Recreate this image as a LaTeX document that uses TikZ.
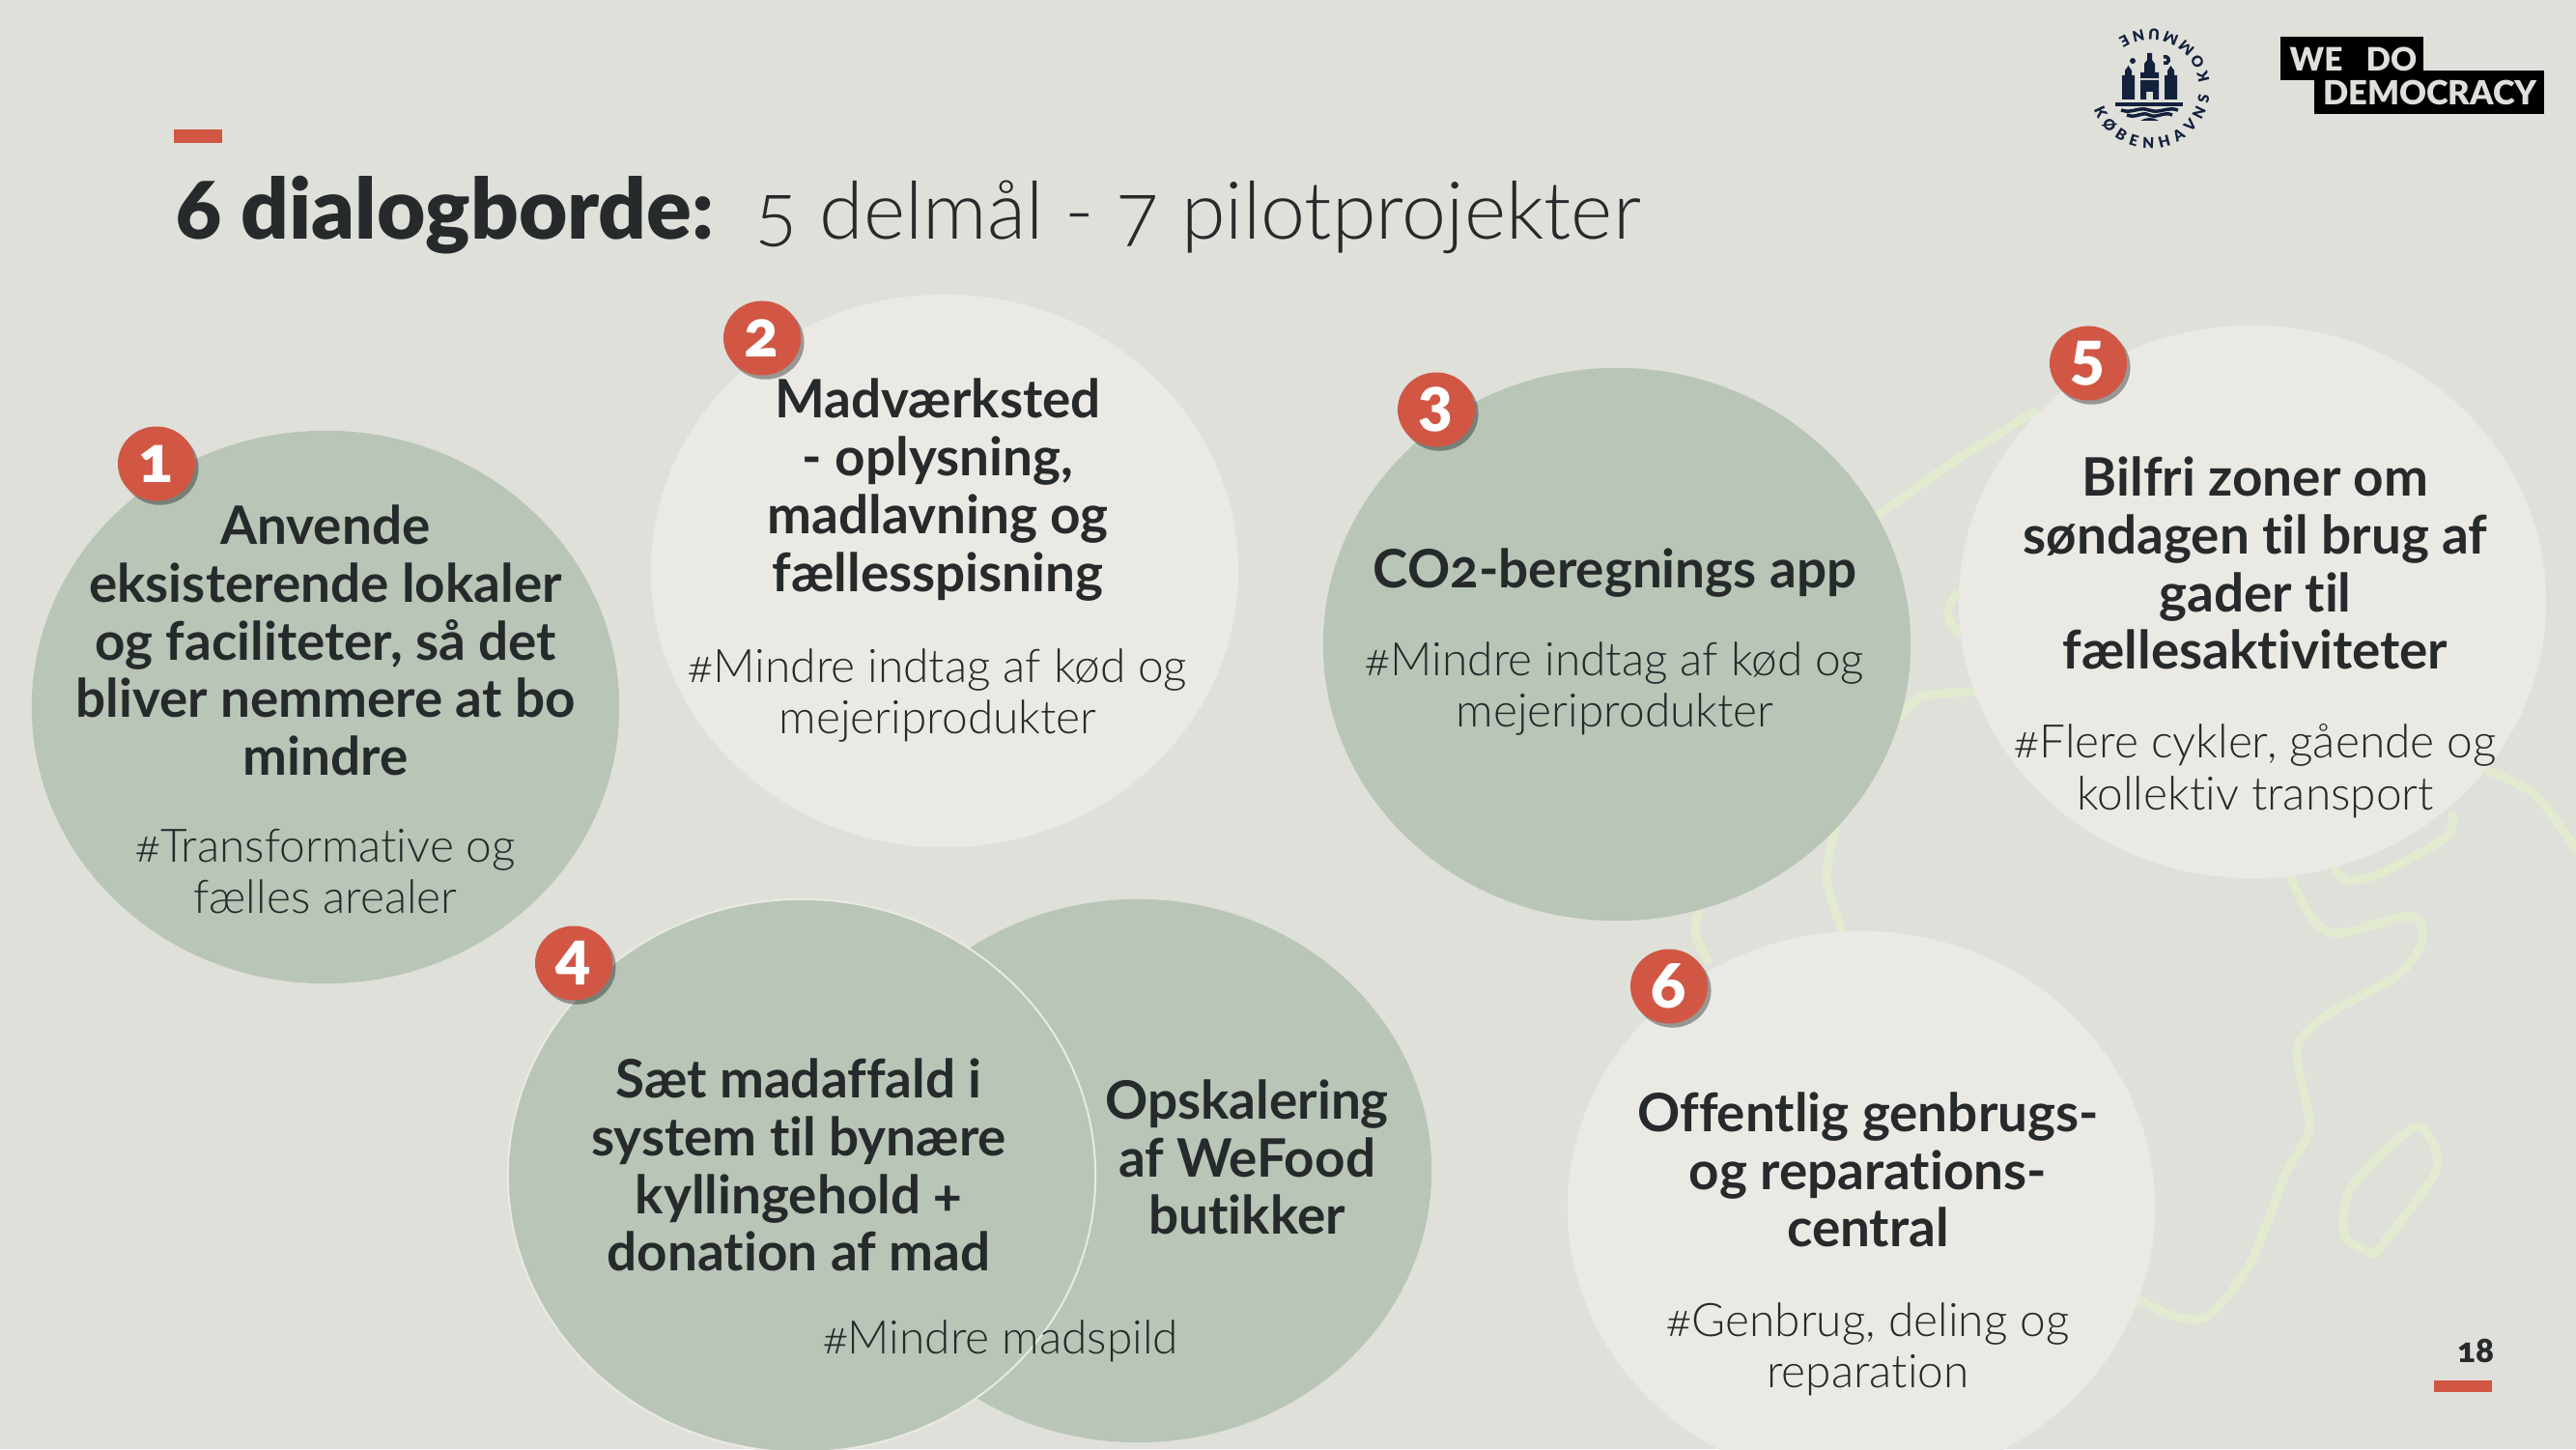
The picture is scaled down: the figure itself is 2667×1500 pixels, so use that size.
\documentclass[tikz,border=0pt]{standalone}
\usepackage{fontspec}
\setmainfont{Lato}
\newfontfamily\lightfont[Numbers=OldStyle,Ligatures=CommonOff]{Lato Light}
\newfontfamily\boldfont[Numbers=OldStyle,Ligatures=CommonOff]{Lato Bold}
\newfontfamily\heavyfont[Numbers=OldStyle,Ligatures=CommonOff]{Lato Black}
\usetikzlibrary{positioning,shapes.geometric,shadows,decorations.text}

\definecolor{pagebg}{HTML}{DFE0DA}
\definecolor{discdark}{HTML}{B8C5B7}
\definecolor{disclight}{HTML}{EBE9E4}
\definecolor{accent}{HTML}{D15744}
\definecolor{inktext}{HTML}{262A2B}
\definecolor{mapgreen}{HTML}{E2EBD0}
\definecolor{sealblue}{HTML}{14213D}

\tikzset{
  disc/.style={ellipse, draw=none, inner sep=0pt, minimum width=6.08cm, minimum height=5.72cm},
  darkdisc/.style={disc, fill=discdark},
  lightdisc/.style={disc, fill=disclight},
  badge/.style={ellipse, fill=accent, text=white, inner sep=0pt, minimum width=0.80cm, minimum height=0.77cm,
    font=\heavyfont\fontsize{19}{19}\selectfont,
    drop shadow={shadow xshift=1pt, shadow yshift=-1.2pt, opacity=0.35, fill=black}},
  head/.style={align=center, text=inktext, inner sep=0pt, font=\boldfont\fontsize{15.6}{17}\selectfont},
  tag/.style={align=center, text=inktext, inner sep=0pt, font=\lightfont\fontsize{13.6}{15.2}\selectfont},
  mapline/.style={draw=mapgreen, line width=0.09cm, line cap=round, line join=round},
  redbar/.style={fill=accent, draw=none},
  sealpart/.style={fill=sealblue, draw=none},
  wave/.style={draw=sealblue, line width=0.035cm},
}

\begin{document}
\begin{tikzpicture}[x=0.01cm, y=-0.01cm]
  \useasboundingbox (0,0) rectangle (2667,1500);
  \clip (0,0) rectangle (2667,1500);
  \fill[pagebg] (0,0) rectangle (2667,1500);

  % map lines behind the discs
  \draw[mapline] plot[smooth] coordinates {(1944,534) (2020,480) (2107,426)};
  \draw[mapline] plot[smooth] coordinates {(2025,615) (2016,635) (2027,655)};
  \draw[mapline] plot[smooth] coordinates {(1968,741) (1990,721) (2045,716)};
  \draw[mapline] plot[smooth] coordinates {(1900,859) (1891,909) (1907,962)};
  \draw[mapline] plot[smooth] coordinates {(1759,944) (1755,966) (1768,994)};
  \draw[mapline] plot[smooth] coordinates {(2576,798) (2625,823) (2667,880)};
  \draw[mapline] plot[smooth] coordinates {(2539,844) (2533,866) (2471,901) (2434,912) (2418,901)};
  \draw[mapline] plot[smooth] coordinates {(2372,909) (2394,951) (2422,966) (2496,948) (2508,973) (2483,1009) (2409,1051) (2378,1087) (2391,1166) (2366,1216) (2329,1309) (2286,1362) (2249,1362) (2212,1344)};
  \draw[mapline] plot[smooth] coordinates {(2459,1298) (2520,1216) (2517,1180) (2496,1169) (2434,1230) (2428,1280) (2459,1298)};

  % title
  \fill[redbar] (180,134) rectangle (230,148);
  \node[anchor=base west, inner sep=0pt, text=inktext, font=\heavyfont\fontsize{24.7}{30}\selectfont] (titlebold) at (182,247) {6 dialogborde:};
  \node[anchor=base west, inner sep=0pt, text=inktext, font=\lightfont\fontsize{23.5}{30}\selectfont] (titlelight) at (781,247) {5 delmål - 7 pilotprojekter};

  % discs
  \node[darkdisc] (disc1) at (337,732) {};
  \node[lightdisc] (disc2) at (978,591) {};
  \node[darkdisc] (disc3) at (1674,667) {};
  \node[lightdisc] (disc5) at (2332,623) {};
  \node[lightdisc] (disc6) at (1927,1250) {};
  \node[darkdisc, minimum height=5.62cm] (disc4b) at (1178,1212) {};
  \node[darkdisc, draw=disclight, line width=0.02cm] (disc4) at (830,1217) {};

  % disc texts
  \node[head] (head1) at (337,663) {Anvende\\eksisterende lokaler\\og faciliteter, så det\\bliver nemmere at bo\\mindre};
  \node[tag] (tag1) at (337,902) {\#Transformative og\\fælles arealer};
  \node[head] (head2) at (971,507) {Madværksted\\- oplysning,\\madlavning og\\fællesspisning};
  \node[tag] (tag2) at (971,720) {\#Mindre indtag af kød og\\mejeriprodukter};
  \node[head] (head3) at (1672,593) {CO2-beregnings app};
  \node[tag] (tag3) at (1672,713) {\#Mindre indtag af kød og\\mejeriprodukter};
  \node[head] (head4) at (827,1206) {Sæt madaffald i\\system til bynære\\kyllingehold +\\donation af mad};
  \node[head] (head4b) at (1291,1198) {Opskalering\\af WeFood\\butikker};
  \node[tag] (tag4) at (1036,1388) {\#Mindre madspild};
  \node[head] (head5) at (2335,583) {Bilfri zoner om\\søndagen til brug af\\gader til\\fællesaktiviteter};
  \node[tag] (tag5) at (2335,798) {\#Flere cykler, gående og\\kollektiv transport};
  \node[head] (head6) at (1934,1211) {Offentlig genbrugs-\\og reparations-\\central};
  \node[tag] (tag6) at (1934,1397) {\#Genbrug, deling og\\reparation};

  % badges
  \node[badge] (badge1) at (162,480) {1};
  \node[badge] (badge2) at (789,350) {2};
  \node[badge] (badge3) at (1487,424) {3};
  \node[badge] (badge4) at (594,997) {4};
  \node[badge] (badge5) at (2162,376) {5};
  \node[badge] (badge6) at (1728,1021) {6};

  % page number
  \node[text=inktext, inner sep=0pt, font=\heavyfont\fontsize{10}{12}\selectfont] (pagenum) at (2563,1398) {18};
  \fill[redbar] (2520,1429) rectangle (2580,1441);

  % democracy logo
  \fill[black] (2361,38) rectangle (2509,83);
  \fill[black] (2396,73) rectangle (2634,118);
  \node[text=pagebg, inner sep=0pt, font=\heavyfont\fontsize{9.5}{10}\selectfont] (logowe) at (2398,61) {WE};
  \node[text=pagebg, inner sep=0pt, font=\heavyfont\fontsize{9.5}{10}\selectfont] (logodo) at (2476,61) {DO};
  \node[text=pagebg, inner sep=0pt, font=\heavyfont\fontsize{9.8}{10}\selectfont] (logodem) at (2516,96) {DEMOCRACY};

  % city seal
  \begin{scope}[shift={(2226,92)}, x=0.01cm, y=0.01cm]
    \path[decorate, decoration={text along path, text color=sealblue, text align={fit to path},
      text={|\heavyfont\fontsize{4.4}{6}\selectfont|KØBENHAVNS KOMMUNE}}]
      (-160:0.62cm) arc[start angle=-160, end angle=122, radius=0.62cm];
    \fill[sealpart] (-29,-11) -- (-29,14) -- (-26,14) -- (-26,19) -- (-22.5,24) -- (-19,19) -- (-19,14) -- (-16,14) -- (-16,-11) -- cycle;
    \fill[sealpart] (15,-11) -- (15,14) -- (18,14) -- (18,19) -- (21.5,24) -- (25,19) -- (25,14) -- (28,14) -- (28,-11) -- cycle;
    \fill[sealpart] (-10,-11) -- (-10,9) -- (9,9) -- (9,-11) -- (3,-11) -- (3,-3) -- (-4,-3) -- (-4,-11) -- cycle;
    \fill[sealpart] (-10,11) -- (-10,17) -- (-6,17) -- (-6,26) -- (-3,30) -- (-3,37) -- (2,37) -- (2,30) -- (5,26) -- (5,17) -- (9,17) -- (9,11) -- cycle;
    \fill[sealpart] (-36,-14) rectangle (34,-18);
    \draw[wave] (-30,-22) .. controls (-18,-26) and (-12,-18) .. (-1,-22) .. controls (10,-26) and (18,-18) .. (29,-22);
    \draw[wave] (-24,-27) .. controls (-14,-31) and (-9,-23) .. (-1,-27) .. controls (7,-31) and (14,-23) .. (23,-27);
    \fill[sealpart] (-10,-33) .. controls (-4,-29) and (3,-29) .. (9,-33) -- cycle;
    \fill[sealpart] (-18,29) circle[radius=0.03cm];
    \draw[wave] (14,33) arc[start angle=120, end angle=-120, radius=0.035cm];
  \end{scope}
\end{tikzpicture}
\end{document}
